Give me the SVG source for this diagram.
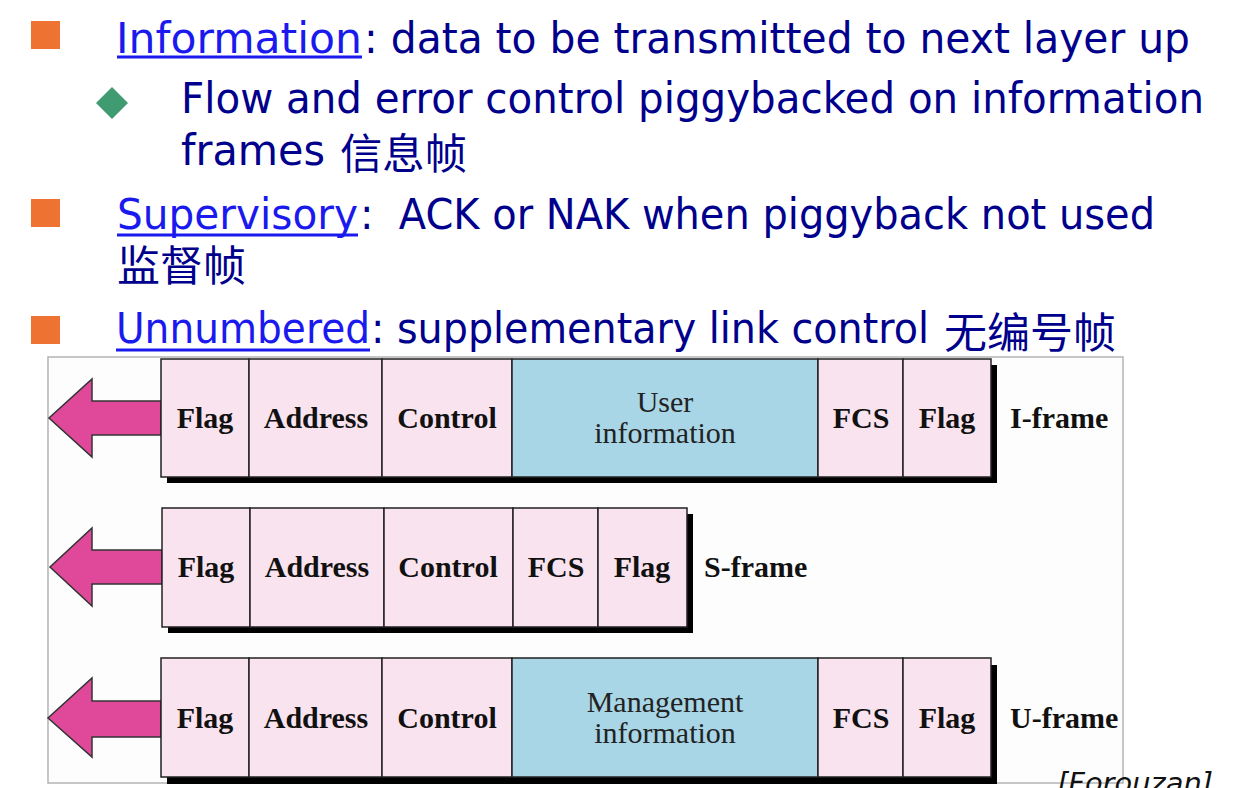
<svg xmlns="http://www.w3.org/2000/svg" width="1242" height="788" viewBox="0 0 1242 788">
<style>
.bul{fill:#ee7231}
.tx{font-family:"DejaVu Sans","Noto Sans",sans-serif;font-size:42px;fill:#00008c}
.lk{font-family:"DejaVu Sans","Noto Sans",sans-serif;font-size:42px;fill:#1a1aee}
.cj{font-family:"Noto Sans CJK SC","Noto Sans",sans-serif;font-size:42px;fill:#00008c}
.ul{stroke:#1a1aee;stroke-width:3}
.cell{fill:#f9e3ef;stroke:#222;stroke-width:1.5}
.info{fill:#a8d6e6;stroke:#222;stroke-width:1.5}
.shadow{fill:#000}
.arrow{fill:#e0489a;stroke:#333;stroke-width:1.5;stroke-linejoin:miter}
.lb{font-family:"Liberation Serif","Times New Roman",serif;font-size:30px;font-weight:bold;fill:#111;text-anchor:middle}
.rg{font-family:"Liberation Serif","Times New Roman",serif;font-size:30px;fill:#222;text-anchor:middle}
.nm{font-family:"Liberation Serif","Times New Roman",serif;font-size:30px;font-weight:bold;fill:#111}
</style>
<rect width="1242" height="788" fill="#fff"/>
<rect x="48" y="357" width="1075" height="426" fill="#fdfdfd" stroke="#b4b4b4" stroke-width="1.5"/>

<g id="bullets-text">
<rect class="bul" x="31" y="21" width="29" height="28"/>
<text class="lk" x="116" y="53" textLength="246" lengthAdjust="spacingAndGlyphs">Information</text>
<line class="ul" x1="117" y1="57" x2="362" y2="57"/>
<text class="tx" x="364" y="53" textLength="826" lengthAdjust="spacingAndGlyphs">: data to be transmitted to next layer up</text>

<polygon points="112,87 128,103 112,119 96,103" fill="#409a72"/>
<text class="tx" x="181" y="113" font-size="38" textLength="1023" lengthAdjust="spacingAndGlyphs">Flow and error control piggybacked on information</text>
<text class="tx" x="181" y="165" textLength="144" lengthAdjust="spacingAndGlyphs">frames</text>
<text class="cj" x="340" y="169" textLength="127" lengthAdjust="spacingAndGlyphs">信息帧</text>

<rect class="bul" x="31" y="199" width="29" height="28"/>
<text class="lk" x="117" y="229" textLength="241" lengthAdjust="spacingAndGlyphs">Supervisory</text>
<line class="ul" x1="117" y1="235" x2="358" y2="235"/>
<text class="tx" x="360" y="229" textLength="795" lengthAdjust="spacingAndGlyphs" xml:space="preserve">:  ACK or NAK when piggyback not used</text>
<text class="cj" x="117" y="281" font-size="43" textLength="129" lengthAdjust="spacingAndGlyphs">监督帧</text>

<rect class="bul" x="31" y="316" width="29" height="28"/>
<text class="lk" x="116" y="343" textLength="254" lengthAdjust="spacingAndGlyphs">Unnumbered</text>
<line class="ul" x1="116" y1="350" x2="370" y2="350"/>
<text class="tx" x="371" y="343" textLength="558" lengthAdjust="spacingAndGlyphs">: supplementary link control</text>
<text class="cj" x="944" y="348" textLength="172" lengthAdjust="spacingAndGlyphs">无编号帧</text>
</g>

<g id="connectors">
<polygon class="arrow" points="161,401 92,401 92,379 49,418 92,457 92,435 161,435"/>
<polygon class="arrow" points="162,550 92,550 92,528 50,567 92,606 92,584 162,584"/>
<polygon class="arrow" points="161,701 92,701 92,678 48,718 92,757 92,737 161,737"/>
</g>

<g id="i-frame">
<rect class="shadow" x="167" y="365" width="830" height="118"/>
<rect class="cell" x="161" y="359" width="88" height="118"/>
<rect class="cell" x="249" y="359" width="133" height="118"/>
<rect class="cell" x="382" y="359" width="130" height="118"/>
<rect class="info" x="512" y="359" width="306" height="118"/>
<rect class="cell" x="818" y="359" width="85" height="118"/>
<rect class="cell" x="903" y="359" width="88" height="118"/>
<text class="lb" x="205" y="428">Flag</text>
<text class="lb" x="316" y="428">Address</text>
<text class="lb" x="447" y="428">Control</text>
<text class="rg" x="665" y="412">User</text>
<text class="rg" x="665" y="443">information</text>
<text class="lb" x="861" y="428">FCS</text>
<text class="lb" x="947" y="428">Flag</text>
<text class="nm" x="1010" y="428">I-frame</text>
</g>

<g id="s-frame">
<rect class="shadow" x="168" y="514" width="525" height="119"/>
<rect class="cell" x="162" y="508" width="88" height="119"/>
<rect class="cell" x="250" y="508" width="134" height="119"/>
<rect class="cell" x="384" y="508" width="129" height="119"/>
<rect class="cell" x="513" y="508" width="85" height="119"/>
<rect class="cell" x="598" y="508" width="89" height="119"/>
<text class="lb" x="206" y="577">Flag</text>
<text class="lb" x="317" y="577">Address</text>
<text class="lb" x="448" y="577">Control</text>
<text class="lb" x="556" y="577">FCS</text>
<text class="lb" x="642" y="577">Flag</text>
<text class="nm" x="704" y="577">S-frame</text>
</g>

<g id="u-frame">
<rect class="shadow" x="167" y="665" width="830" height="119"/>
<rect class="cell" x="161" y="658" width="88" height="119"/>
<rect class="cell" x="249" y="658" width="133" height="119"/>
<rect class="cell" x="382" y="658" width="130" height="119"/>
<rect class="info" x="512" y="658" width="306" height="119"/>
<rect class="cell" x="818" y="658" width="85" height="119"/>
<rect class="cell" x="903" y="658" width="88" height="119"/>
<text class="lb" x="205" y="728">Flag</text>
<text class="lb" x="316" y="728">Address</text>
<text class="lb" x="447" y="728">Control</text>
<text class="rg" x="665" y="712">Management</text>
<text class="rg" x="665" y="743">information</text>
<text class="lb" x="861" y="728">FCS</text>
<text class="lb" x="947" y="728">Flag</text>
<text class="nm" x="1010" y="728">U-frame</text>
</g>

<text x="1057" y="793" font-family="'DejaVu Sans',sans-serif" font-style="italic" font-size="28" fill="#111" textLength="156" lengthAdjust="spacingAndGlyphs">[Forouzan]</text>
</svg>
